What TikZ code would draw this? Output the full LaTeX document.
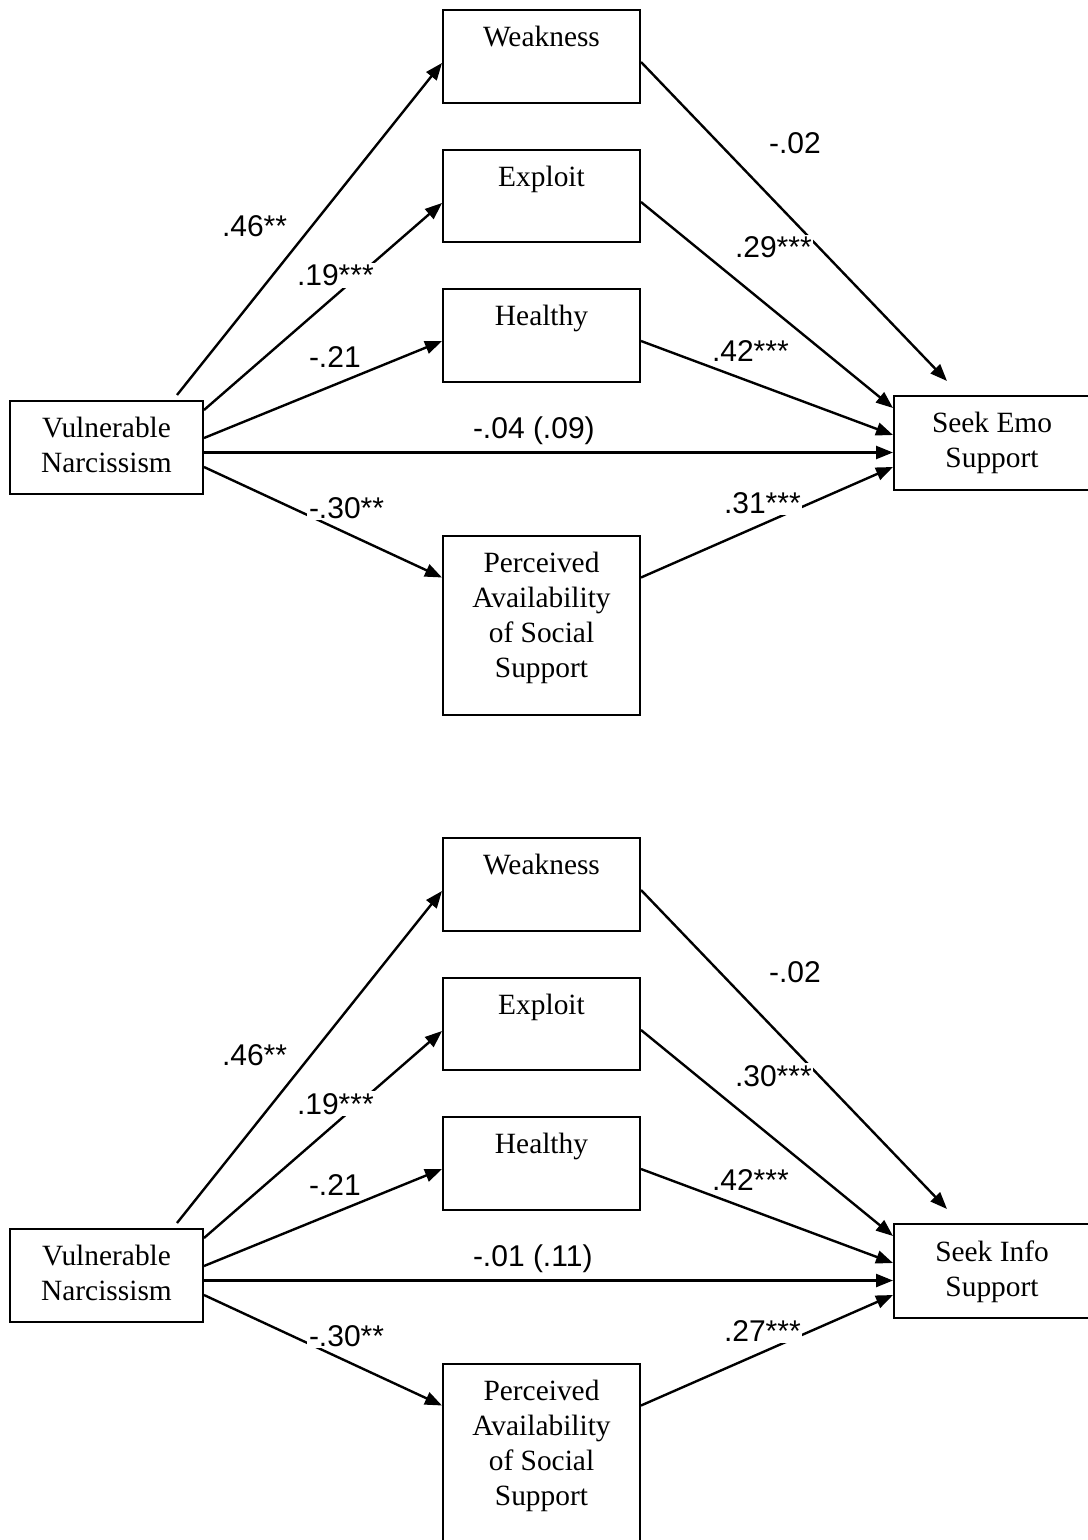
\documentclass[tikz,border=0pt]{standalone}
\usepackage{fontspec}
\setmainfont{Liberation Serif}
\newfontfamily\coeffam{Liberation Sans}
\usetikzlibrary{arrows.meta,calc}

\tikzset{
  box/.style={draw, line width=1pt, rectangle, inner sep=0pt},
  boxtext/.style={inner sep=0pt, align=center, anchor=north,
    font=\fontsize{14.7}{17.5}\selectfont},
  coef/.style={fill=white, inner sep=0.8pt, anchor=base west,
    font=\coeffam\fontsize{15}{18}\selectfont},
  arr/.style={line width=1.2pt, -{Triangle[length=8.5pt,width=6.5pt]}},
}

\begin{document}
\begin{tikzpicture}[x=0.5pt, y=-0.5pt]
\useasboundingbox (0,0) rectangle (1087,1540);

% two mediation models: emotional and informational support seeking
\foreach \p/\oy/\outc/\dirc/\exc/\pac in
  {1/0/Emo/{-.04 (.09)}/.29/.31, 2/828/Info/{-.01 (.11)}/.30/.27}{
  % boxes
  \node[box, minimum width=96.5pt, minimum height=46.5pt] (vn\p) at (106.5,{447.5+\oy}) {};
  \node[box, minimum width=98.5pt, minimum height=46.5pt] (wk\p) at (541.5,{56.5+\oy}) {};
  \node[box, minimum width=98.5pt, minimum height=46pt]   (ex\p) at (541.5,{196+\oy}) {};
  \node[box, minimum width=98.5pt, minimum height=46.5pt] (he\p) at (541.5,{335.5+\oy}) {};
  \node[box, minimum width=98.5pt, minimum height=89.5pt] (pa\p) at (541.5,{625.5+\oy}) {};
  \node[box, minimum width=98pt,   minimum height=47pt]   (se\p) at (992,{443+\oy}) {};

  % box texts
  \node[boxtext] (vnT\p) at ($(vn\p.north)+(0,17)$) {Vulnerable\\Narcissism};
  \node[boxtext] (wkT\p) at ($(wk\p.north)+(0,17)$) {Weakness};
  \node[boxtext] (exT\p) at ($(ex\p.north)+(0,17)$) {Exploit};
  \node[boxtext] (heT\p) at ($(he\p.north)+(0,17)$) {Healthy};
  \node[boxtext] (paT\p) at ($(pa\p.north)+(0,17)$) {Perceived\\Availability\\of Social\\Support};
  \node[boxtext] (seT\p) at ($(se\p.north)+(0,17)$) {Seek \outc\\Support};

  % paths from the predictor
  \draw[arr] ($(vn\p.north west)+(168,-5)$) -- ($(wk\p.west)+(0,6.5)$);
  \draw[arr] ($(vn\p.east)+(0,-37.5)$) -- ($(ex\p.west)+(0,7)$);
  \draw[arr] ($(vn\p.east)+(0,-9.5)$) -- ($(he\p.west)+(0,5.5)$);
  \draw[arr] ($(vn\p.east)+(0,5)$) -- ($(se\p.west)+(0,9.5)$);
  \draw[arr] ($(vn\p.east)+(0,19.5)$) -- ($(pa\p.west)+(0,-48)$);

  % paths to the outcome
  \draw[arr] ($(wk\p.east)+(0,5.5)$) -- ($(se\p.north west)+(54,-14)$);
  \draw[arr] ($(ex\p.east)+(0,6)$) -- ($(se\p.west)+(0,-35)$);
  \draw[arr] ($(he\p.east)+(0,5.5)$) -- ($(se\p.west)+(0,-8)$);
  \draw[arr] ($(pa\p.east)+(0,-48)$) -- ($(se\p.west)+(0,24)$);

  % coefficients
  \node[coef] (cwk\p) at (220,{237+\oy}) {.46**};
  \node[coef] (cex\p) at (295,{286+\oy}) {.19***};
  \node[coef] (che\p) at (307,{367+\oy}) {-.21};
  \node[coef] (cdi\p) at (471,{438+\oy}) {\dirc};
  \node[coef] (cpa\p) at (307,{518+\oy}) {-.30**};
  \node[coef] (owk\p) at (767,{154+\oy}) {-.02};
  \node[coef] (oex\p) at (733,{258+\oy}) {\exc***};
  \node[coef] (ohe\p) at (710,{362+\oy}) {.42***};
  \node[coef] (opa\p) at (722,{513+\oy}) {\pac***};
}
\end{tikzpicture}
\end{document}
